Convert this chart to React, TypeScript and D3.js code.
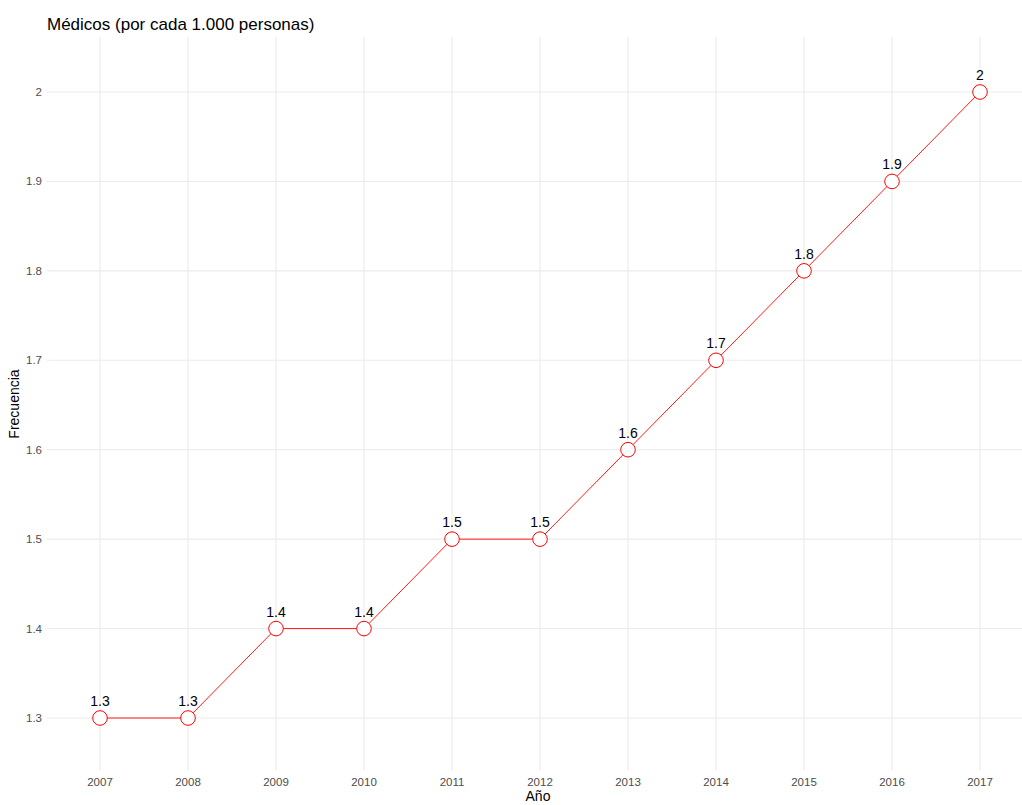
import React from "react";
import * as d3 from "d3";

const years = [2007, 2008, 2009, 2010, 2011, 2012, 2013, 2014, 2015, 2016, 2017];
const values = [1.3, 1.3, 1.4, 1.4, 1.5, 1.5, 1.6, 1.7, 1.8, 1.9, 2.0];
const yTicks = [1.3, 1.4, 1.5, 1.6, 1.7, 1.8, 1.9, 2.0];
const title = "Médicos (por cada 1.000 personas)";
const xTitle = "Año";
const yTitle = "Frecuencia";

const W = 1022;
const H = 805;
const panel = { left: 47, right: 1022, top: 37, bottom: 770 };

export default function App() {
  const x = d3.scaleLinear().domain([2007, 2017]).range([100, 980]);
  const y = d3.scaleLinear().domain([1.3, 2.0]).range([718, 92]);
  const line = d3
    .line<number>()
    .x((_, i) => x(years[i]))
    .y((d) => y(d));
  const font = "'Liberation Sans', Arial, sans-serif";
  const fmt = (v: number) => String(+v.toFixed(1));

  return (
    <svg
      width={W}
      height={H}
      style={{ position: "absolute", left: 0, top: 0, background: "#fff" }}
      fontFamily={font}
    >
      {yTicks.map((t) => (
        <line key={"gy" + t} x1={panel.left} x2={panel.right} y1={y(t)} y2={y(t)} stroke="#ebebeb" strokeWidth={1.1} />
      ))}
      {years.map((t) => (
        <line key={"gx" + t} x1={x(t)} x2={x(t)} y1={panel.top} y2={panel.bottom} stroke="#ebebeb" strokeWidth={1.1} />
      ))}
      {yTicks.map((t) => (
        <text key={"ty" + t} x={42} y={y(t)} dy="0.35em" textAnchor="end" fontSize={11.5} fill="#4d4d4d">
          {fmt(t)}
        </text>
      ))}
      {years.map((t) => (
        <text key={"tx" + t} x={x(t)} y={786} textAnchor="middle" fontSize={11.5} fill="#4d4d4d">
          {t}
        </text>
      ))}
      <path d={line(values) || ""} fill="none" stroke="#ff0000" strokeWidth={0.9} />
      {values.map((v, i) => (
        <circle key={"p" + i} cx={x(years[i])} cy={y(v)} r={7.3} fill="#fff" stroke="#ff0000" strokeWidth={1} />
      ))}
      {values.map((v, i) => (
        <text key={"l" + i} x={x(years[i])} y={y(v) - 12} textAnchor="middle" fontSize={14} fill="#000">
          {fmt(v)}
        </text>
      ))}
      <text x={47} y={30} fontSize={17} fill="#000">
        {title}
      </text>
      <text x={538} y={801} textAnchor="middle" fontSize={14} fill="#000">
        {xTitle}
      </text>
      <text transform={`translate(19,404) rotate(-90)`} textAnchor="middle" fontSize={14} fill="#000">
        {yTitle}
      </text>
    </svg>
  );
}
